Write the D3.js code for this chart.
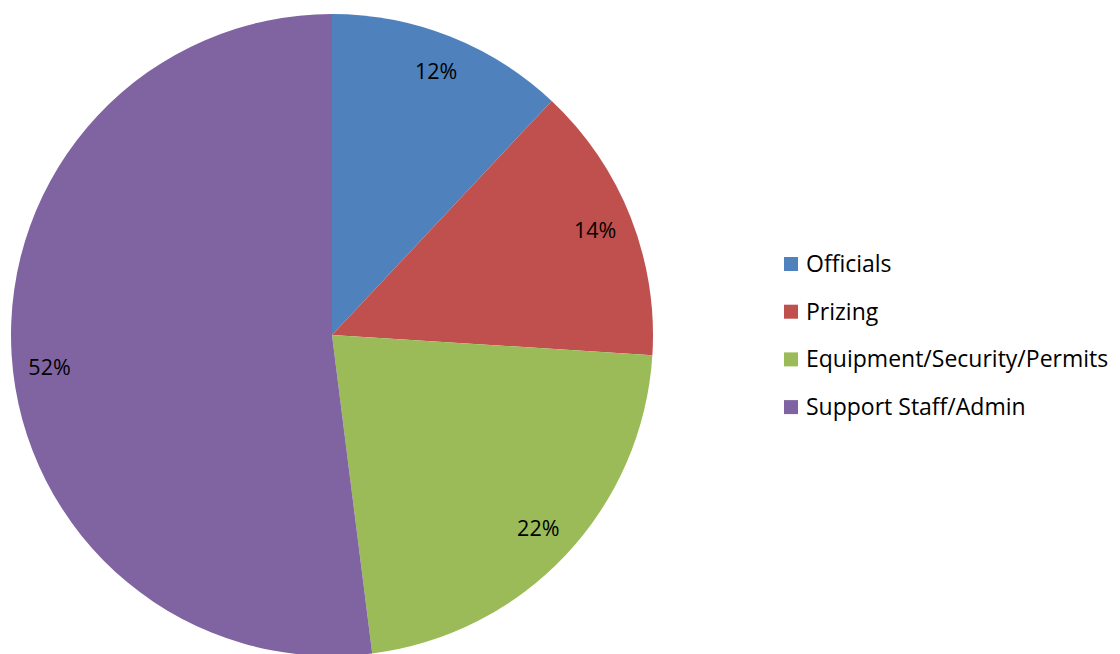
<!DOCTYPE html>
<html>
<head>
<meta charset="utf-8">
<script src="https://cdn.jsdelivr.net/npm/d3@7"></script>
<style>
  body { margin: 0; background: #fff; }
  svg { display: block; }
  text { font-family: "Open Sans", Lato, sans-serif; fill: #000; }
</style>
</head>
<body>
<svg id="chart" width="1120" height="654"></svg>
<script>
// categories + values (percent of total)
var categories = ['Officials', 'Prizing', 'Equipment/Security/Permits', 'Support Staff/Admin'];
var values = [12, 14, 22, 52];
var colors = ['#4F81BD', '#C0504D', '#9BBB59', '#8064A2'];

var svg = d3.select('#chart');
var cx = 332, cy = 335, radius = 321;

var pie = d3.pie().sort(null).value(function(d) { return d; });
var arc = d3.arc().innerRadius(0).outerRadius(radius);
var labelArc = d3.arc().innerRadius(283).outerRadius(283);
// Excel pushes the big slice's label a bit lower than its mid-angle
var labelShift = [0, 0, 0, 15];

var g = svg.append('g').attr('transform', 'translate(' + cx + ',' + cy + ')');
var slices = pie(values);

g.selectAll('path.slice')
    .data(slices)
    .enter().append('path')
    .attr('class', 'slice')
    .attr('d', arc)
    .attr('fill', function(d, i) { return colors[i]; });

g.selectAll('text.pct')
    .data(slices)
    .enter().append('text')
    .attr('class', 'pct')
    .attr('transform', function(d, i) {
        var c = labelArc.centroid(d);
        return 'translate(' + c[0] + ',' + (c[1] + labelShift[i]) + ')';
    })
    .attr('text-anchor', 'middle')
    .attr('dy', '0.35em')
    .style('font-size', '21.5px')
    .text(function(d) { return d.value + '%'; });

// legend
var legend = svg.append('g').attr('transform', 'translate(784,264)');
var item = legend.selectAll('g.item')
    .data(categories)
    .enter().append('g')
    .attr('class', 'item')
    .attr('transform', function(d, i) { return 'translate(0,' + (i * 47.7) + ')'; });

item.append('rect')
    .attr('x', 0).attr('y', -7)
    .attr('width', 14).attr('height', 14)
    .attr('fill', function(d, i) { return colors[i]; });

item.append('text')
    .attr('x', 22)
    .attr('dy', '0.35em')
    .style('font-size', '23px')
    .text(function(d) { return d; });
</script>
</body>
</html>
